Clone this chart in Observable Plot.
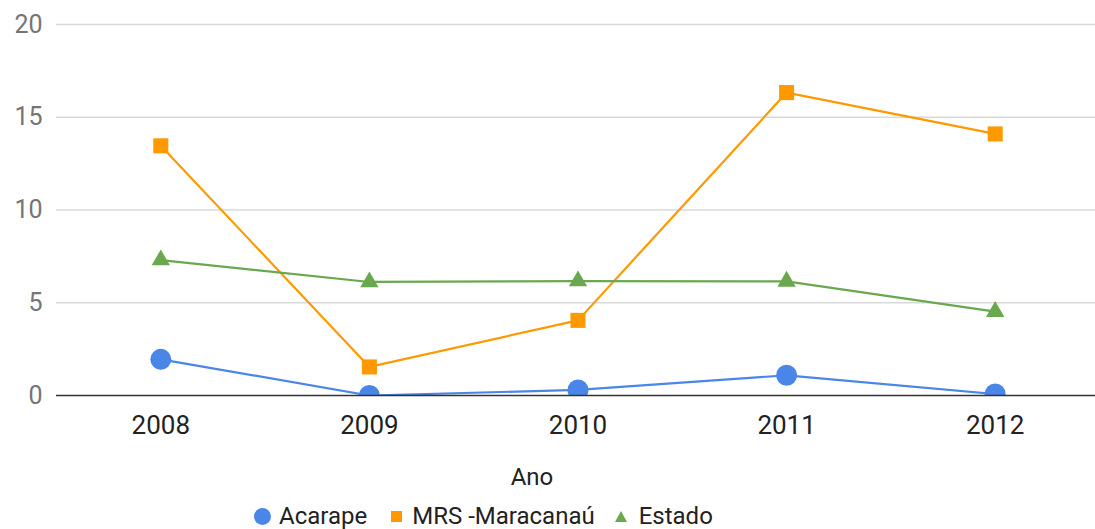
<!DOCTYPE html>
<html><head><meta charset="utf-8">
<script src="https://cdn.jsdelivr.net/npm/d3@7"></script>
<script src="https://cdn.jsdelivr.net/npm/@observablehq/plot@0.6"></script>
<style>
body{margin:0;background:#fff;font-family:Roboto,sans-serif;}
#wrap{position:relative;width:1095px;height:529px;overflow:hidden;background:#fff}
#chart svg{display:block}
#xlabel{position:absolute;left:0;top:462px;width:1064px;text-align:center;font-size:24px;color:#222;line-height:30px}
#legend{position:absolute;left:254px;top:502px;display:flex;align-items:center;font-size:24px;color:#222;line-height:28px;height:28px}
#legend .item{display:flex;align-items:center}
#legend svg{display:block}
</style>
</head><body>
<div id="wrap">
  <div id="chart"></div>
  <div id="xlabel"></div>
  <div id="legend"></div>
</div>
<script>
const years = ["2008", "2009", "2010", "2011", "2012"];
const acarape = [1.95, 0, 0.3, 1.09, 0.08];
const mrs = [13.46, 1.54, 4.05, 16.33, 14.1];
const estado = [7.3, 6.12, 6.17, 6.15, 4.52];
const seriesNames = ["Acarape", "MRS -Maracanaú", "Estado"];
const colors = ["#4a86e8", "#ff9900", "#6aa84f"];
const symbols = ["circle", "square", "triangle"];
const yTicks = [0, 5, 10, 15, 20];
const xTitle = "Ano";

const seriesValues = [acarape, mrs, estado];
const data = [];
seriesNames.forEach((s, i) => {
  years.forEach((y, j) => data.push({series: s, year: y, value: seriesValues[i][j]}));
});

const radii = [10.5, 8.5, 6.8];

const chart = Plot.plot({
  width: 1095,
  height: 450,
  marginTop: 24,
  marginBottom: 55,
  marginLeft: 56,
  marginRight: 0,
  style: {fontFamily: "Roboto", background: "white", overflow: "visible"},
  x: {type: "point", domain: years, padding: 0.5, round: false, range: [56, 1099], label: null},
  y: {domain: [0, 20], label: null},
  color: {domain: seriesNames, range: colors},
  marks: [
    Plot.gridY(yTicks.filter(t => t > 0), {stroke: "#d9d9d9", strokeOpacity: 1, strokeWidth: 1.3}),
    Plot.axisY(yTicks, {tickSize: 0, tickPadding: 14, fontSize: 25, color: "#757575", label: null}),
    Plot.axisX({tickSize: 0, tickPadding: 20, fontSize: 26, color: "#222", label: null}),
    Plot.line(data, {x: "year", y: "value", z: "series", stroke: "series", strokeWidth: 2.2, clip: true}),
    ...seriesNames.map((s, i) =>
      Plot.dot(data.filter(d => d.series === s), {x: "year", y: "value", fill: "series", symbol: () => symbols[i], r: radii[i], clip: true})
    ),
    Plot.ruleY([0], {stroke: "#333", strokeWidth: 1.5})
  ]
});
document.getElementById("chart").appendChild(chart);

document.getElementById("xlabel").textContent = xTitle;

const legend = document.getElementById("legend");
const markerSvgs = [
  c => `<svg width="17" height="17"><circle cx="8.5" cy="8.5" r="8.5" fill="${c}"/></svg>`,
  c => `<svg width="11" height="11"><rect x="0" y="0" width="11" height="11" fill="${c}"/></svg>`,
  c => `<svg width="12" height="11"><path d="M6 0 L12 11 L0 11 Z" fill="${c}"/></svg>`
];
const gapsAfterMarker = [8, 10, 12];
const gapsAfterItem = [24, 20, 0];
seriesNames.forEach((s, i) => {
  const item = document.createElement("div");
  item.className = "item";
  item.style.marginRight = gapsAfterItem[i] + "px";
  const m = document.createElement("span");
  m.innerHTML = markerSvgs[i](colors[i]);
  m.style.marginRight = gapsAfterMarker[i] + "px";
  const t = document.createElement("span");
  t.textContent = s;
  item.appendChild(m);
  item.appendChild(t);
  legend.appendChild(item);
});
</script>
</body></html>
